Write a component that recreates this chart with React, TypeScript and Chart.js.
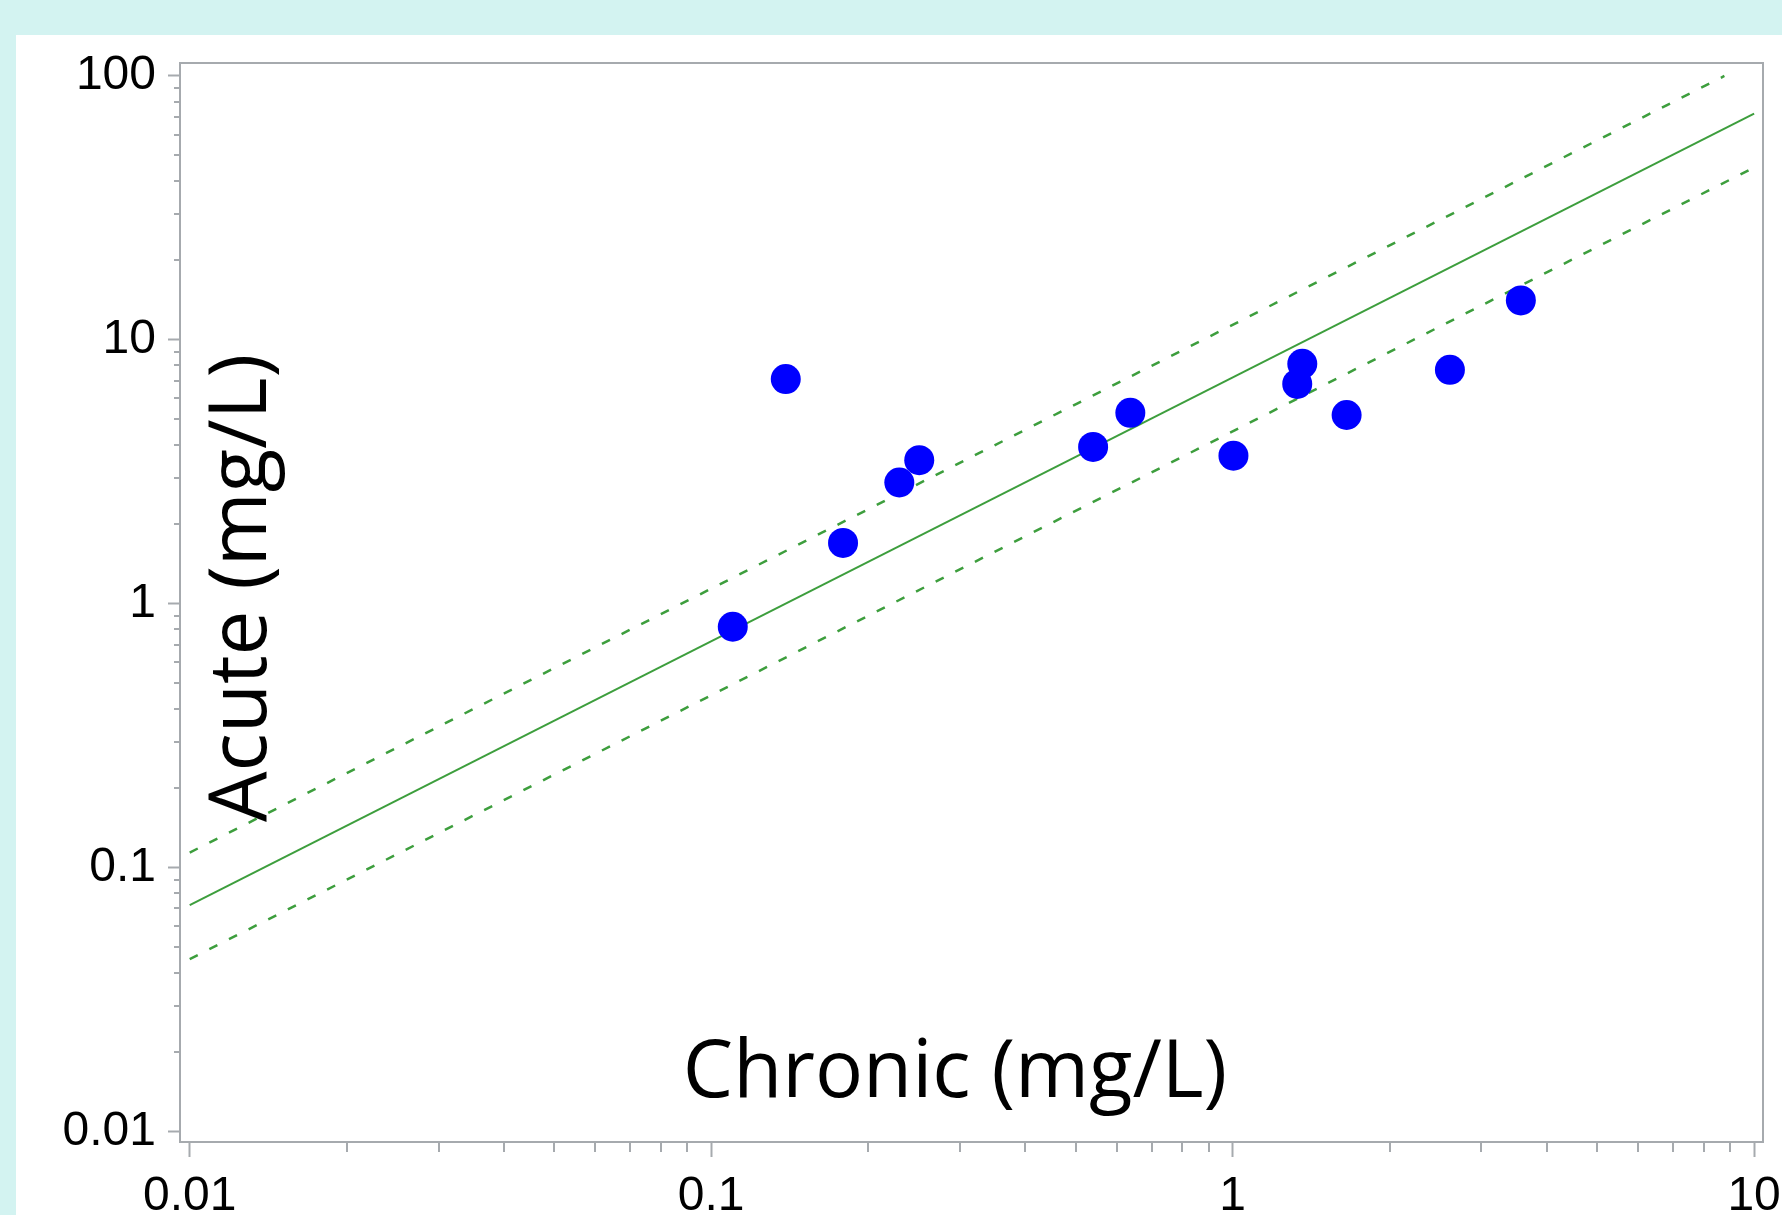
import React, { useEffect, useRef } from 'react';
import { Chart, registerables } from 'chart.js';

Chart.register(...registerables);

// ---- Data ----
const chronic = [0.110, 0.139, 0.179, 0.2295, 0.2506, 0.540, 0.6365, 1.0035, 1.33, 1.36, 1.654, 2.61, 3.57];
const acute = [0.818, 7.10, 1.70, 2.88, 3.50, 3.93, 5.29, 3.64, 6.81, 8.11, 5.19, 7.70, 14.1];

const fitX = [0.01, 10];
const fitY = [0.072, 72];
const upperX = [0.01, 8.77];
const upperY = [0.114, 100];
const lowerX = [0.01, 10];
const lowerY = [0.045, 45];

const xMajorTicks = [0.01, 0.1, 1, 10];
const xTickLabels = ['0.01', '0.1', '1', '10'];
const yMajorTicks = [0.01, 0.1, 1, 10, 100];
const yTickLabels = ['0.01', '0.1', '1', '10', '100'];
const minorMultipliers = [2, 3, 4, 5, 6, 7, 8, 9];

const xTitle = 'Chronic (mg/L)';
const yTitle = 'Acute (mg/L)';

const X_MIN = 0.00958;
const X_MAX = 10.4;
const Y_MIN = 0.00912;
const Y_MAX = 112;

const AXIS_GRAY = '#A6AAAE';
const GREEN = '#3D9E3D';
const BLUE = '#0000FF';

const labelFor = (v: number, ticks: number[], labels: string[]) => {
  const i = ticks.findIndex((t) => Math.abs(v - t) / t < 1e-6);
  return i >= 0 ? labels[i] : '';
};

const minorValues = (majors: number[], min: number, max: number) => {
  const out: number[] = [];
  majors.forEach((m) => {
    minorMultipliers.forEach((k) => {
      const v = m * k;
      if (v > min && v < max) out.push(v);
    });
  });
  return out;
};

const decorPlugin = {
  id: 'decor',
  beforeDatasetsDraw(chart: any) {
    const { ctx, chartArea: a } = chart;
    ctx.save();
    // frame
    ctx.strokeStyle = AXIS_GRAY;
    ctx.lineWidth = 2;
    ctx.strokeRect(a.left, a.top, a.right - a.left, a.bottom - a.top);
    // titles inside plot area
    ctx.fillStyle = '#000';
    ctx.font = '80px "Open Sans"';
    ctx.textAlign = 'center';
    ctx.textBaseline = 'alphabetic';
    ctx.fillText(xTitle, 939, 1062);
    ctx.translate(250, 553);
    ctx.rotate(-Math.PI / 2);
    ctx.fillText(yTitle, 0, 0);
    ctx.restore();
  },
  afterDraw(chart: any) {
    const { ctx, chartArea: a, scales } = chart;
    ctx.save();
    ctx.strokeStyle = AXIS_GRAY;
    ctx.lineWidth = 2;
    ctx.beginPath();
    minorValues(xMajorTicks, X_MIN, X_MAX).forEach((v) => {
      const px = Math.round(scales.x.getPixelForValue(v));
      ctx.moveTo(px, a.bottom);
      ctx.lineTo(px, a.bottom + 10);
    });
    minorValues(yMajorTicks, Y_MIN, Y_MAX).forEach((v) => {
      const py = Math.round(scales.y.getPixelForValue(v));
      ctx.moveTo(a.left - 6, py);
      ctx.lineTo(a.left, py);
    });
    ctx.stroke();
    ctx.restore();
  },
};

export default function App() {
  const canvasRef = useRef<HTMLCanvasElement | null>(null);

  useEffect(() => {
    const canvas = canvasRef.current;
    if (!canvas) return;
    const toPts = (xs: number[], ys: number[]) => xs.map((x, i) => ({ x, y: ys[i] }));
    const tickFont = { family: '"Liberation Sans", Arial, sans-serif', size: 48 };

    const chart = new Chart(canvas, {
      type: 'scatter',
      data: {
        datasets: [
          {
            type: 'scatter',
            data: toPts(chronic, acute),
            backgroundColor: BLUE,
            borderWidth: 0,
            pointRadius: 15,
            pointHoverRadius: 15,
          } as any,
          {
            type: 'line',
            data: toPts(fitX, fitY),
            borderColor: GREEN,
            borderWidth: 2,
            pointRadius: 0,
            fill: false,
            showLine: true,
          } as any,
          {
            type: 'line',
            data: toPts(upperX, upperY),
            borderColor: GREEN,
            borderWidth: 2.5,
            borderDash: [9, 13],
            pointRadius: 0,
            fill: false,
            showLine: true,
          } as any,
          {
            type: 'line',
            data: toPts(lowerX, lowerY),
            borderColor: GREEN,
            borderWidth: 2.5,
            borderDash: [9, 13],
            pointRadius: 0,
            fill: false,
            showLine: true,
          } as any,
        ],
      },
      options: {
        animation: false,
        responsive: false,
        maintainAspectRatio: false,
        layout: { padding: { left: 0, right: 19, top: 28, bottom: 0 } },
        plugins: { legend: { display: false }, tooltip: { enabled: false } },
        events: [],
        scales: {
          x: {
            type: 'logarithmic',
            min: X_MIN,
            max: X_MAX,
            border: { display: false },
            grid: {
              display: true,
              drawOnChartArea: false,
              drawTicks: true,
              tickLength: 15,
              tickColor: AXIS_GRAY,
              tickWidth: 2,
            },
            ticks: {
              autoSkip: false,
              maxRotation: 0,
              minRotation: 0,
              padding: 11,
              color: '#000',
              font: tickFont,
              callback: (v: any) => labelFor(Number(v), xMajorTicks, xTickLabels),
            },
            afterBuildTicks: (s: any) => {
              s.ticks = xMajorTicks.map((v) => ({ value: v }));
            },
            afterFit: (s: any) => {
              s.height = 73;
              s.paddingLeft = 0;
              s.paddingRight = 0;
            },
          } as any,
          y: {
            type: 'logarithmic',
            min: Y_MIN,
            max: Y_MAX,
            border: { display: false },
            grid: {
              display: true,
              drawOnChartArea: false,
              drawTicks: true,
              tickLength: 12,
              tickColor: AXIS_GRAY,
              tickWidth: 2,
            },
            ticks: {
              autoSkip: false,
              padding: 12,
              color: '#000',
              font: tickFont,
              callback: (v: any) => labelFor(Number(v), yMajorTicks, yTickLabels),
            },
            afterBuildTicks: (s: any) => {
              s.ticks = yMajorTicks.map((v) => ({ value: v }));
            },
            afterFit: (s: any) => {
              s.width = 164;
              s.paddingTop = 0;
              s.paddingBottom = 0;
            },
          } as any,
        },
      },
      plugins: [decorPlugin],
    });

    return () => chart.destroy();
  }, []);

  return (
    <div
      style={{
        position: 'fixed',
        left: 0,
        top: 0,
        width: 1782,
        height: 1215,
        background: '#D3F3F1',
        overflow: 'hidden',
      }}
    >
      <div
        style={{
          position: 'absolute',
          left: 16,
          top: 35,
          width: 1766,
          height: 1180,
          background: '#FFFFFF',
        }}
      >
        <canvas ref={canvasRef} width={1766} height={1180} style={{ display: 'block', width: 1766, height: 1180 }} />
      </div>
    </div>
  );
}
